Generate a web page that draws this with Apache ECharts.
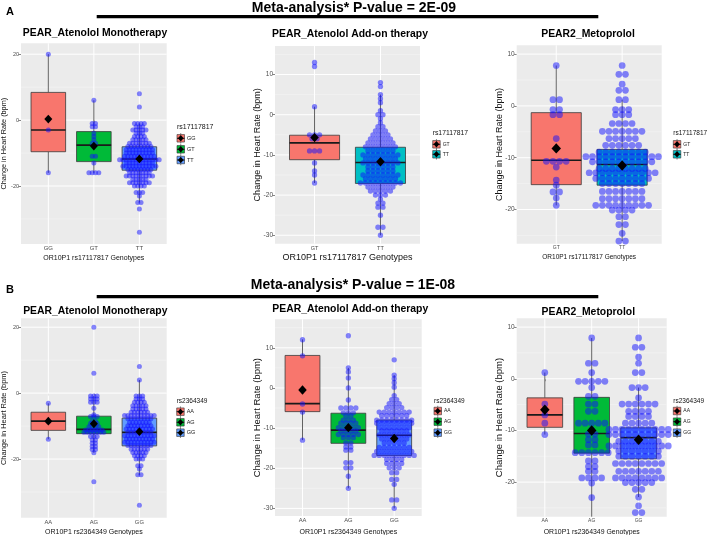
<!DOCTYPE html>
<html><head><meta charset="utf-8">
<script src="https://cdn.jsdelivr.net/npm/echarts@6/dist/echarts.min.js"></script>
<style>html,body{margin:0;padding:0;background:#fff}#c{width:709px;height:535px}</style>
</head><body><div id="c"></div>
<script>
// ---------------- DATA ----------------
const mainTitles = ['Meta-analysis* P-value = 2E-09', 'Meta-analysis* P-value = 1E-08'];
const panelTitles = ['PEAR_Atenolol Monotherapy', 'PEAR_Atenolol Add-on therapy', 'PEAR2_Metoprolol'];
const snpA = 'rs17117817';
const snpB = 'rs2364349';

// Panel A1
const a1Categories = ['GG', 'GT', 'TT'];
const a1YTicks = [-20, 0, 20];
const a1YMinor = [-30, -10, 10];
const a1YRange = [-37.6, 23.3];
const a1Box = [[-16, -9.6, -3, 8.4, 20], [-16, -12.6, -7.6, -3.5, 6], [-25, -15.2, -11.8, -8.1, -1]]; // min,Q1,median,Q3,max
const a1Mean = [0.3, -7.9, -11.8];
const a1Dots = [
  [[20,1],[-3,1],[-16,1]],
  [[6,1],[-1,2],[-2,2],[-4,1],[-5,1],[-6,1],[-7,2],[-8,1],[-11,2],[-13,1],[-16,4]],
  [[8,1],[4,1],[-1,4],[-2,3],[-3,5],[-4,3],[-5,4],[-6,5],[-7,7],[-8,8],[-9,9],[-10,9],[-11,10],[-12,13],[-13,9],[-14,11],[-15,8],[-16,7],[-17,9],[-18,5],[-19,7],[-20,4],[-22,3],[-23,1],[-25,2],[-27,1],[-34,1]]
];

// Panel A2
const a2Categories = ['GT', 'TT'];
const a2YTicks = [-30, -20, -10, 0, 10];
const a2YMinor = [-25, -15, -5, 5, 15];
const a2YRange = [-32.1, 17.1];
const a2Box = [[-17, -11.2, -7.0, -5.1, 2], [-30, -17.1, -11.9, -8.1, 5]];
const a2Mean = [-5.7, -11.7];
const a2Dots = [
  [[13,1],[12,1],[2,1],[-5,3],[-6,2],[-9,3],[-12,1],[-14,1],[-15,1],[-17,1]],
  [[8,1],[7,1],[5,1],[4,1],[3,1],[1,1],[0,2],[-1,1],[-2,1],[-3,2],[-4,3],[-5,4],[-6,5],[-7,6],[-8,7],[-9,6],[-10,8],[-11,7],[-12,8],[-13,6],[-14,6],[-15,8],[-16,7],[-17,9],[-18,6],[-19,5],[-20,3],[-21,1],[-22,2],[-23,2],[-25,1],[-28,2],[-30,1]]
];

// Panel A3
const a3Categories = ['GT', 'TT'];
const a3YTicks = [-20, -10, 0, 10];
const a3YMinor = [-25, -15, -5, 5];
const a3YRange = [-26.6, 11.7];
const a3Box = [[-19.2, -15.2, -10.5, -1.3, 7.8], [-26.1, -15.3, -11.3, -8.4, 1.2]];
const a3Mean = [-8.2, -11.5];
const a3Dots = [
  [[7.8,1],[1.2,2],[-0.7,2],[-1.7,2],[-6.3,1],[-10.7,4],[-11.8,1],[-14.3,1],[-15.3,1],[-16.6,2],[-17.8,1],[-19.2,1]],
  [[7.8,1],[6.1,2],[4.2,1],[3.0,2],[1.2,2],[-0.7,3],[-1.7,3],[-3.4,4],[-4.9,7],[-6.3,5],[-7.6,6],[-8.9,8],[-9.8,12],[-10.8,10],[-12.1,8],[-12.9,11],[-14.0,9],[-15.0,7],[-16.5,7],[-17.9,7],[-19.2,9],[-20.1,4],[-21.4,2],[-22.9,2],[-24.6,1],[-26.1,2]]
];

// Panel B1
const b1Categories = ['AA', 'AG', 'GG'];
const b1YTicks = [-20, 0, 20];
const b1YMinor = [-30, -10, 10];
const b1YRange = [-37.8, 22.7];
const b1Box = [[-14, -11.3, -8.5, -5.8, -3.1], [-18.1, -12.3, -11.0, -7.0, -0.9], [-24.8, -16, -11.9, -7.6, 4]];
const b1Mean = [-8.5, -9.3, -11.7];
const b1Dots = [
  [[-3.1,1],[-8.5,1],[-14,1]],
  [[20,1],[6,1],[-0.9,3],[-1.8,3],[-2.8,3],[-4.6,1],[-6.6,1],[-7.1,3],[-8.5,2],[-9.2,3],[-10.2,4],[-11.2,6],[-11.9,7],[-13.2,3],[-14.2,2],[-15.2,2],[-16.2,2],[-17.1,2],[-18.1,1],[-26.9,1]],
  [[8.1,1],[4,1],[-0.9,3],[-1.8,3],[-2.8,4],[-3.8,5],[-4.8,5],[-5.8,6],[-6.8,10],[-7.8,8],[-8.9,7],[-9.9,8],[-10.9,9],[-11.9,8],[-12.9,10],[-13.9,9],[-14.9,10],[-15.9,8],[-17,6],[-18,5],[-19,4],[-20,3],[-22,2],[-23,1],[-24.8,2],[-34,1]]
];

// Panel B2
const b2Categories = ['AA', 'AG', 'GG'];
const b2YTicks = [-30, -20, -10, 0, 10];
const b2YMinor = [-25, -15, -5, 5, 15];
const b2YRange = [-31.9, 17.1];
const b2Box = [[-13, -5.9, -3.9, 8.1, 12.1], [-25, -13.8, -10.5, -6.3, 5], [-30, -16.8, -11.8, -8.0, 3.2]];
const b2Mean = [-0.5, -9.9, -12.6];
const b2Dots = [
  [[12,1],[8,1],[-4,1],[-6,1],[-13,1]],
  [[13,1],[5,1],[4,1],[2.5,1],[0,1],[-3,1],[-5,4],[-6.2,3],[-7,2],[-8,3],[-8.8,4],[-9.9,5],[-10.7,4],[-11.6,5],[-12.4,3],[-13.7,2],[-14.7,2],[-15.5,2],[-18.6,2],[-19.9,2],[-22,1],[-25,1]],
  [[7,1],[3.2,1],[2.3,1],[1.3,1],[0.2,1],[-1.9,1],[-2.9,2],[-3.9,3],[-4.9,4],[-6,7],[-6.9,6],[-8,8],[-8.8,8],[-9.9,7],[-10.7,6],[-11.7,7],[-12.7,6],[-13.7,5],[-14.8,7],[-15.8,8],[-16.8,9],[-17.8,4],[-18.8,4],[-19.9,3],[-21.1,2],[-22.8,2],[-24,1],[-27.9,2],[-30,1]]
];

// Panel B3
const b3Categories = ['AA', 'AG', 'GG'];
const b3YTicks = [-20, -10, 0, 10];
const b3YMinor = [-25, -15, -5, 5];
const b3YRange = [-26.7, 11.7];
const b3Box = [[-10.8, -9.4, -7.0, -3.7, 1.2], [-30, -14.4, -10.6, -3.6, 7.9], [-22.9, -15.5, -11.4, -9.5, -1.7]];
const b3Mean = [-6.0, -10.0, -11.8];
const b3Dots = [
  [[1.2,1],[-4.9,1],[-7.0,1],[-8.6,1],[-10.8,1]],
  [[7.9,1],[3.0,2],[1.2,1],[-0.5,5],[-1.7,1],[-3.4,2],[-4.9,2],[-6.3,2],[-8.6,5],[-9.9,1],[-10.7,2],[-11.8,2],[-12.8,2],[-14.3,6],[-15.9,2],[-17.0,2],[-17.9,2],[-19.2,4],[-20.2,1],[-23.0,1]],
  [[7.9,1],[6.1,2],[4.2,1],[3.0,1],[1.2,2],[-1.7,3],[-3.7,1],[-4.9,6],[-6.3,4],[-7.3,4],[-8.6,5],[-9.8,10],[-10.8,10],[-12.1,7],[-13.0,10],[-14.0,7],[-15.0,7],[-16.4,8],[-17.9,7],[-19.2,8],[-20.1,5],[-21.4,2],[-22.9,1],[-24.6,1],[-25.9,2]]
];

// ---------------- STYLE / LAYOUT ----------------
const FONT = '"Liberation Sans", Arial, Helvetica, sans-serif';
const pal3 = ['#F8766D', '#00BA38', '#619CFF'];
const pal2 = ['#F8766D', '#00BFC4'];
const BOX_HALF = 0.38;

const panels = [
  {cats:a1Categories, yTicks:a1YTicks, yMinor:a1YMinor, yRange:a1YRange, box:a1Box, mean:a1Mean, dots:a1Dots, title:panelTitles[0], snp:snpA,
   L:{left:21, top:43.3, width:145.7, height:200.7, dotSize:5, dotStep:3.3, diamond:8, xLab:6, yLab:5.5, titleX:95, titleY:33, xTitleY:257.7, xTitleSize:7, yTitleX:4, yTitleSize:7.3, legX:177, legTitleY:126.7, legKeyY:[138.3,149.3,160], legTitleSize:7, legLabelSize:5.5}},
  {cats:a2Categories, yTicks:a2YTicks, yMinor:a2YMinor, yRange:a2YRange, box:a2Box, mean:a2Mean, dots:a2Dots, title:panelTitles[1], snp:snpA,
   L:{left:275, top:46, width:145, height:197.7, dotSize:5.3, dotStep:5, diamond:8.5, xLab:5.5, yLab:6.5, titleX:350, titleY:34.2, xTitleY:257.7, xTitleSize:9, yTitleX:257.5, yTitleSize:9, legX:432.7, legTitleY:133.3, legKeyY:[144.3,154.3], legTitleSize:6.8, legLabelSize:5}},
  {cats:a3Categories, yTicks:a3YTicks, yMinor:a3YMinor, yRange:a3YRange, box:a3Box, mean:a3Mean, dots:a3Dots, title:panelTitles[2], snp:snpA,
   L:{left:516.7, top:45.3, width:145, height:198.4, dotSize:6.7, dotStep:6.6, diamond:9.5, xLab:5, yLab:6.5, titleX:588, titleY:34.5, xTitleY:257.7, xTitleSize:6.5, yTitleX:499.5, yTitleSize:9, legX:673.3, legTitleY:133.3, legKeyY:[144.3,154.3], legTitleSize:6.5, legLabelSize:5}},
  {cats:b1Categories, yTicks:b1YTicks, yMinor:b1YMinor, yRange:b1YRange, box:b1Box, mean:b1Mean, dots:b1Dots, title:panelTitles[0], snp:snpB,
   L:{left:21, top:318.3, width:145.7, height:199.4, dotSize:5, dotStep:3.3, diamond:8, xLab:5.8, yLab:5.5, titleX:95.3, titleY:310.8, xTitleY:531.7, xTitleSize:7, yTitleX:4, yTitleSize:7.5, legX:176.7, legTitleY:401, legKeyY:[411.7,422.3,432.7], legTitleSize:6.5, legLabelSize:5.5}},
  {cats:b2Categories, yTicks:b2YTicks, yMinor:b2YMinor, yRange:b2YRange, box:b2Box, mean:b2Mean, dots:b2Dots, title:panelTitles[1], snp:snpB,
   L:{left:275, top:319.3, width:146.7, height:196.7, dotSize:5.3, dotStep:5, diamond:8.5, xLab:5.8, yLab:6.5, titleX:350.3, titleY:309.2, xTitleY:531.7, xTitleSize:7, yTitleX:257.5, yTitleSize:9.5, legX:434, legTitleY:401, legKeyY:[411,421.7,432.7], legTitleSize:6.5, legLabelSize:5}},
  {cats:b3Categories, yTicks:b3YTicks, yMinor:b3YMinor, yRange:b3YRange, box:b3Box, mean:b3Mean, dots:b3Dots, title:panelTitles[2], snp:snpB,
   L:{left:516.7, top:318.3, width:150, height:198.4, dotSize:6.7, dotStep:6.6, diamond:9.5, xLab:5, yLab:6.5, titleX:588.3, titleY:311.8, xTitleY:531.7, xTitleSize:6.9, yTitleX:499.5, yTitleSize:9.5, legX:673.3, legTitleY:401, legKeyY:[411,421.7,432.7], legTitleSize:6.5, legLabelSize:5}}
];

const grids = [], xAxes = [], yAxes = [], series = [], graphics = [];

panels.forEach((P, i) => {
  const L = P.L;
  const n = P.cats.length;
  const colors = n === 3 ? pal3 : pal2;
  const cv = P.cats.map((c, k) => k + 1);
  grids.push({left:L.left, top:L.top, width:L.width, height:L.height, show:true, backgroundColor:'#EBEBEB',
              borderWidth:0, borderColor:'rgba(0,0,0,0)', containLabel:false, outerBoundsMode:'none'});
  xAxes.push({type:'value', gridIndex:i, min:0.4, max:n + 0.6,
    axisLine:{show:false}, splitLine:{show:false},
    axisTick:{show:true, customValues:cv, length:2.5, lineStyle:{color:'#333', width:0.6}},
    axisLabel:{show:true, customValues:cv, formatter:(v) => P.cats[Math.round(v) - 1] || '', fontSize:L.xLab, color:'#4D4D4D', margin:1.5, fontFamily:FONT}});
  yAxes.push({type:'value', gridIndex:i, min:P.yRange[0], max:P.yRange[1],
    axisLine:{show:false}, splitLine:{show:false},
    axisTick:{show:true, customValues:P.yTicks, length:2.5, lineStyle:{color:'#333', width:0.6}},
    axisLabel:{show:true, customValues:P.yTicks, fontSize:L.yLab, color:'#4D4D4D', margin:2, fontFamily:FONT}});

  // panel gridlines
  series.push({type:'custom', xAxisIndex:i, yAxisIndex:i, z:1, silent:true, data:[[1, 0]],
    renderItem:(params, api) => {
      const cs = params.coordSys;
      const ch = [];
      P.yMinor.forEach(v => { const y = api.coord([1, v])[1];
        ch.push({type:'line', shape:{x1:cs.x, y1:y, x2:cs.x + cs.width, y2:y}, style:{stroke:'#F7F7F7', lineWidth:0.5}}); });
      P.yTicks.forEach(v => { const y = api.coord([1, v])[1];
        ch.push({type:'line', shape:{x1:cs.x, y1:y, x2:cs.x + cs.width, y2:y}, style:{stroke:'#FFFFFF', lineWidth:1}}); });
      cv.forEach(v => { const x = api.coord([v, 0])[0];
        ch.push({type:'line', shape:{x1:x, y1:cs.y, x2:x, y2:cs.y + cs.height}, style:{stroke:'#FFFFFF', lineWidth:1}}); });
      return {type:'group', children:ch};
    }});

  // boxes
  series.push({type:'custom', xAxisIndex:i, yAxisIndex:i, z:3, silent:true,
    data:P.box.map((b, k) => [k + 1].concat(b)),
    renderItem:(params, api) => {
      const cs = params.coordSys;
      const x = api.value(0);
      const clampY = (y) => Math.min(Math.max(y, cs.y), cs.y + cs.height);
      const yy = (d) => clampY(api.coord([x, api.value(d)])[1]);
      const cx = api.coord([x, 0])[0];
      const xl = api.coord([x - BOX_HALF, 0])[0];
      const xr = api.coord([x + BOX_HALF, 0])[0];
      const yMin = yy(1), yQ1 = yy(2), yMed = yy(3), yQ3 = yy(4), yMax = yy(5);
      return {type:'group', children:[
        {type:'line', shape:{x1:cx, y1:yMax, x2:cx, y2:yQ3}, style:{stroke:'#3a3a3a', lineWidth:0.8}},
        {type:'line', shape:{x1:cx, y1:yQ1, x2:cx, y2:yMin}, style:{stroke:'#3a3a3a', lineWidth:0.8}},
        {type:'rect', shape:{x:xl, y:yQ3, width:xr - xl, height:yQ1 - yQ3}, style:{fill:colors[params.dataIndex], stroke:'#3a3a3a', lineWidth:0.8}},
        {type:'line', shape:{x1:xl, y1:yMed, x2:xr, y2:yMed}, style:{stroke:'#1a1a1a', lineWidth:1.6}}
      ]};
    }});

  // dot plot (centered stacks)
  const dotData = [];
  P.dots.forEach((rows, k) => rows.forEach(([v, cnt]) => {
    for (let j = 0; j < cnt; j++) dotData.push({value:[k + 1, v], symbolOffset:[(j - (cnt - 1) / 2) * L.dotStep, 0]});
  }));
  series.push({type:'scatter', xAxisIndex:i, yAxisIndex:i, z:4, silent:true, symbol:'circle', symbolSize:L.dotSize,
    itemStyle:{color:'#1010FF', opacity:0.5}, data:dotData});

  // means
  series.push({type:'scatter', xAxisIndex:i, yAxisIndex:i, z:5, silent:true, symbol:'diamond', symbolSize:[L.diamond, L.diamond * 1.1],
    itemStyle:{color:'#000000', opacity:1}, data:P.mean.map((m, k) => [k + 1, m])});

  // panel title
  graphics.push({type:'text', x:L.titleX, y:L.titleY, style:{text:P.title, font:'bold 10.4px ' + FONT, fill:'#000', align:'center', verticalAlign:'middle'}});
  // axis titles
  const xTitle = 'OR10P1 ' + P.snp + ' Genotypes';
  graphics.push({type:'text', x:L.left + L.width / 2, y:L.xTitleY, style:{text:xTitle, font:L.xTitleSize + 'px ' + FONT, fill:'#111', align:'center', verticalAlign:'middle'}});
  graphics.push({type:'text', x:L.yTitleX, y:L.top + L.height / 2, rotation:Math.PI / 2, style:{text:'Change in Heart Rate (bpm)', font:L.yTitleSize + 'px ' + FONT, fill:'#111', align:'center', verticalAlign:'middle'}});
  // legend
  graphics.push({type:'text', x:L.legX, y:L.legTitleY, style:{text:P.snp, font:L.legTitleSize + 'px ' + FONT, fill:'#111', align:'left', verticalAlign:'middle'}});
  P.cats.forEach((c, k) => {
    const ky = L.legKeyY[k];
    const kx = L.legX;
    const s = 7.5;
    graphics.push({type:'line', shape:{x1:kx + s / 2, y1:ky - s / 2 - 1.5, x2:kx + s / 2, y2:ky + s / 2 + 1.5}, style:{stroke:'#333', lineWidth:0.6}});
    graphics.push({type:'rect', shape:{x:kx, y:ky - s / 2, width:s, height:s}, style:{fill:colors[k], stroke:'#333', lineWidth:0.6}});
    graphics.push({type:'line', shape:{x1:kx, y1:ky, x2:kx + s, y2:ky}, style:{stroke:'#111', lineWidth:1}});
    graphics.push({type:'polygon', shape:{points:[[kx + s / 2, ky - 3.2], [kx + s / 2 + 2.8, ky], [kx + s / 2, ky + 3.2], [kx + s / 2 - 2.8, ky]]}, style:{fill:'#000'}});
    graphics.push({type:'text', x:kx + s + 2.5, y:ky, style:{text:c, font:L.legLabelSize + 'px ' + FONT, fill:'#222', align:'left', verticalAlign:'middle'}});
  });
});

// figure-level annotations
graphics.push({type:'text', x:10, y:12, style:{text:'A', font:'bold 11px ' + FONT, fill:'#000', align:'center', verticalAlign:'middle'}});
graphics.push({type:'text', x:10, y:290, style:{text:'B', font:'bold 11px ' + FONT, fill:'#000', align:'center', verticalAlign:'middle'}});
graphics.push({type:'text', x:354, y:7.7, style:{text:mainTitles[0], font:'bold 14px ' + FONT, fill:'#000', align:'center', verticalAlign:'middle'}});
graphics.push({type:'text', x:353, y:285.5, style:{text:mainTitles[1], font:'bold 14px ' + FONT, fill:'#000', align:'center', verticalAlign:'middle'}});
graphics.push({type:'line', shape:{x1:96.7, y1:16.7, x2:598.3, y2:16.7}, style:{stroke:'#000', lineWidth:3.3}});
graphics.push({type:'line', shape:{x1:96.7, y1:296.7, x2:598.3, y2:296.7}, style:{stroke:'#000', lineWidth:3.3}});

const chart = echarts.init(document.getElementById('c'), null, {renderer:'canvas'});
chart.setOption({
  animation:false,
  backgroundColor:'#FFFFFF',
  grid:grids, xAxis:xAxes, yAxis:yAxes, series:series,
  graphic:{elements:graphics}
});
</script>
</body></html>
